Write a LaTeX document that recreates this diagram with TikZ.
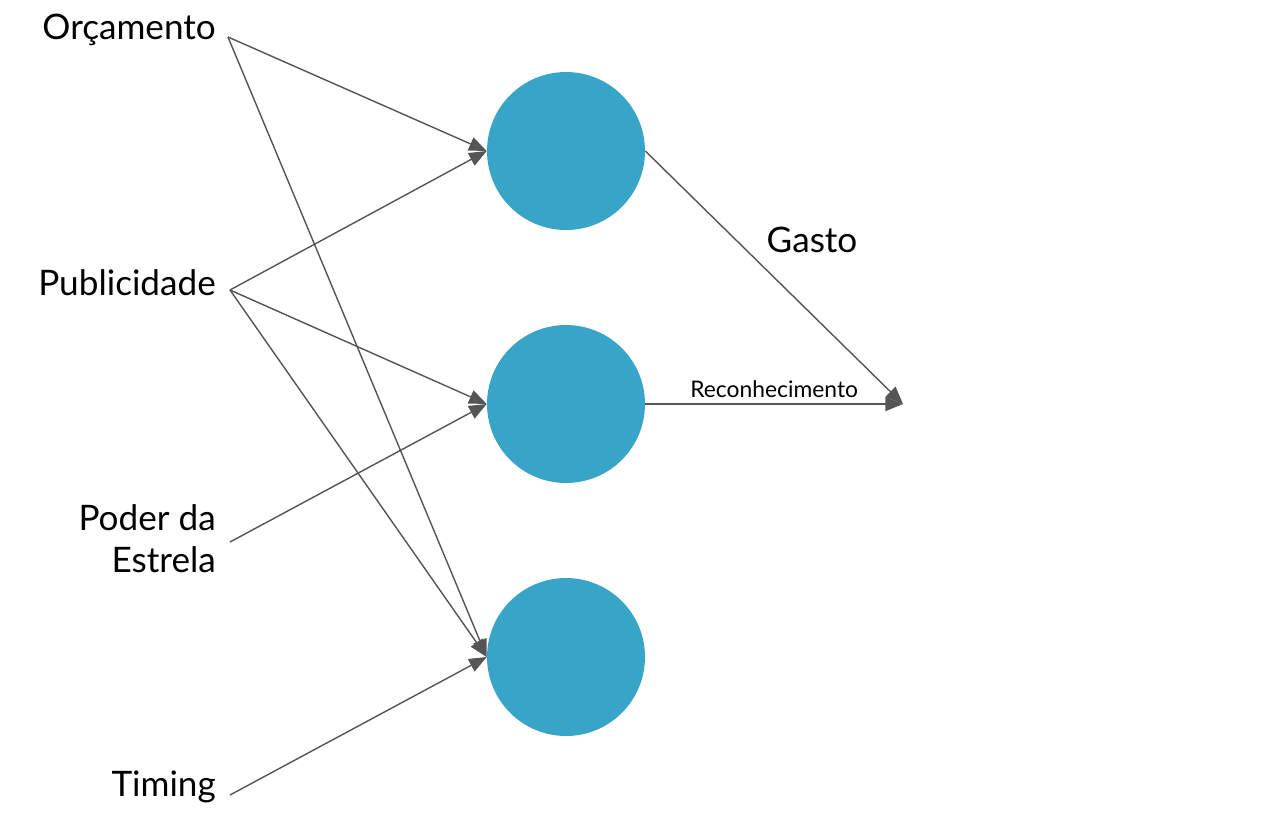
\documentclass[tikz,border=0pt]{standalone}
\usepackage{fontspec}
\setmainfont{Lato}
\usetikzlibrary{arrows.meta, positioning}
\definecolor{neuronblue}{HTML}{38A5C8}
\definecolor{linkgray}{HTML}{555555}

\begin{document}
\begin{tikzpicture}[x=0.02cm,y=-0.02cm,
    every node/.style={font=\fontsize{20}{24}\selectfont},
    neuron/.style={circle, fill=neuronblue, minimum size=3.16cm, inner sep=0pt},
    link/.style={draw=linkgray, line width=0.8pt, -{Triangle[length=10pt,width=8pt]}}]
    \useasboundingbox (0,0) rectangle (1283,816);
    % inputs
    \node[anchor=east] (orc) at (222,30) {Orçamento};
    \node[anchor=east] (pub) at (222,283) {Publicidade};
    \node[anchor=east, align=right] (pod) at (222,539) {Poder da\\Estrela};
    \node[anchor=east] (tim) at (222,787) {Timing};
    \coordinate (orcS) at (228,37);
    \coordinate (pubS) at (230,290);
    \coordinate (podS) at (230,542);
    \coordinate (timS) at (230,795);
    % hidden layer
    \foreach \n/\y in {1/151, 2/404, 3/657}{
        \node[neuron] (H\n) at (566,\y) {};
    }
    \coordinate (out) at (903,404);
    % connectors
    \draw[link] (orcS) -- (H1.west);
    \draw[link] (orcS) -- (H3.west);
    \draw[link] (pubS) -- (H1.west);
    \draw[link] (pubS) -- (H2.west);
    \draw[link] (pubS) -- (H3.west);
    \draw[link] (podS) -- (H2.west);
    \draw[link] (timS) -- (H3.west);
    \draw[link] (H1.east) -- (out);
    \draw[link] (H2.east) -- node[above, font=\fontsize{13}{16}\selectfont] (rec) {Reconhecimento} (out);
    \node (gas) at (812,240) {Gasto};
\end{tikzpicture}
\end{document}
